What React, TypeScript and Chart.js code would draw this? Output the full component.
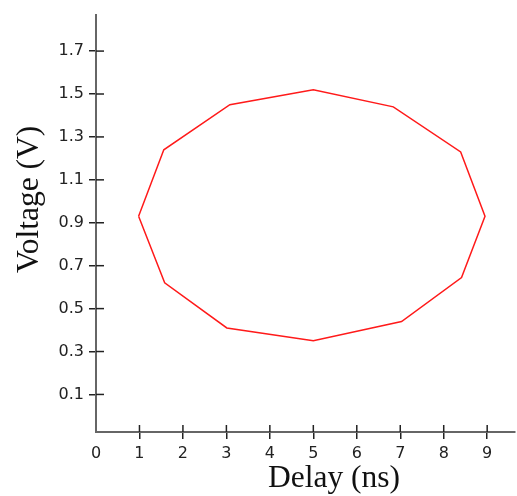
import { useEffect, useRef } from 'react';
import { Chart, registerables } from 'chart.js';

Chart.register(...registerables);

const xTickValues = [0, 1, 2, 3, 4, 5, 6, 7, 8, 9];
const yTickValues = [0.1, 0.3, 0.5, 0.7, 0.9, 1.1, 1.3, 1.5, 1.7];
const delayNs = [0.98, 1.56, 3.08, 5.0, 6.84, 8.39, 8.95, 8.41, 7.03, 5.0, 3.01, 1.58];
const voltageV = [0.93, 1.24, 1.45, 1.52, 1.44, 1.23, 0.93, 0.645, 0.44, 0.35, 0.41, 0.62];
const xTitle = 'Delay (ns)';
const yTitle = 'Voltage (V)';

const TICK_FONT = { family: '"DejaVu Sans", sans-serif', size: 16 };
const TITLE_FONT = '31.5px "Liberation Serif", "Times New Roman", serif';

const innerTicksAndTitles = {
  id: 'innerTicksAndTitles',
  afterDraw(chart: any) {
    const ctx = chart.ctx;
    const xs = chart.scales.x;
    const ys = chart.scales.y;
    const area = chart.chartArea;
    ctx.save();
    ctx.strokeStyle = '#222';
    ctx.lineWidth = 1.5;
    xs.ticks.forEach((t: any) => {
      if (t.value === 0) return;
      const px = xs.getPixelForValue(t.value);
      ctx.beginPath();
      ctx.moveTo(px, area.bottom);
      ctx.lineTo(px, area.bottom - 7);
      ctx.stroke();
    });
    ys.ticks.forEach((t: any) => {
      const py = ys.getPixelForValue(t.value);
      ctx.beginPath();
      ctx.moveTo(area.left, py);
      ctx.lineTo(area.left + 8, py);
      ctx.stroke();
    });
    ctx.fillStyle = '#111';
    ctx.font = TITLE_FONT;
    ctx.textBaseline = 'alphabetic';
    ctx.textAlign = 'left';
    ctx.fillText(xTitle, 268, 487);
    ctx.translate(38, 273);
    ctx.rotate(-Math.PI / 2);
    ctx.fillText(yTitle, 0, 0);
    ctx.restore();
  },
};

export default function App() {
  const ref = useRef<HTMLCanvasElement>(null);
  useEffect(() => {
    if (!ref.current) return;
    const pts = delayNs.map((x, i) => ({ x, y: voltageV[i] }));
    pts.push({ ...pts[0] });
    const chart = new Chart(ref.current, {
      type: 'scatter',
      data: {
        datasets: [
          {
            data: pts,
            showLine: true,
            borderColor: '#ff1a1a',
            borderWidth: 1.5,
            pointRadius: 0,
            fill: false,
            tension: 0,
          },
        ],
      },
      options: {
        animation: false,
        responsive: false,
        maintainAspectRatio: false,
        devicePixelRatio: 1,
        layout: { padding: { top: 10, right: 2, bottom: 0, left: 0 } },
        plugins: { legend: { display: false }, tooltip: { enabled: false }, title: { display: false } },
        scales: {
          x: {
            type: 'linear',
            min: 0,
            max: 9.64,
            afterFit: (s: any) => { s.height = 64; },
            afterBuildTicks: (s: any) => { s.ticks = xTickValues.map((v) => ({ value: v })); },
            ticks: { color: '#222', font: TICK_FONT, padding: 5, maxRotation: 0, callback: (v: any) => String(v) },
            grid: {
              drawOnChartArea: false,
              drawTicks: true,
              tickLength: 7,
              lineWidth: 1.5,
              color: (c: any) => (c.tick && c.tick.value === 0 ? 'rgba(0,0,0,0)' : '#222'),
            },
            border: { display: true, color: '#666', width: 2 },
          },
          y: {
            type: 'linear',
            min: -0.075,
            max: 1.87,
            afterFit: (s: any) => { s.width = 96; },
            afterBuildTicks: (s: any) => { s.ticks = yTickValues.map((v) => ({ value: v })); },
            ticks: { color: '#222', font: TICK_FONT, padding: 5, callback: (v: any) => Number(v).toFixed(1) },
            grid: { drawOnChartArea: false, drawTicks: true, tickLength: 7, lineWidth: 1.5, color: '#222' },
            border: { display: true, color: '#666', width: 2 },
          },
        },
      },
      plugins: [innerTicksAndTitles],
    });
    return () => chart.destroy();
  }, []);
  return (
    <div style={{ position: 'fixed', left: 0, top: 0, width: 517, height: 496, background: '#fff' }}>
      <canvas ref={ref} width={517} height={496} style={{ width: 517, height: 496, display: 'block' }} />
    </div>
  );
}
